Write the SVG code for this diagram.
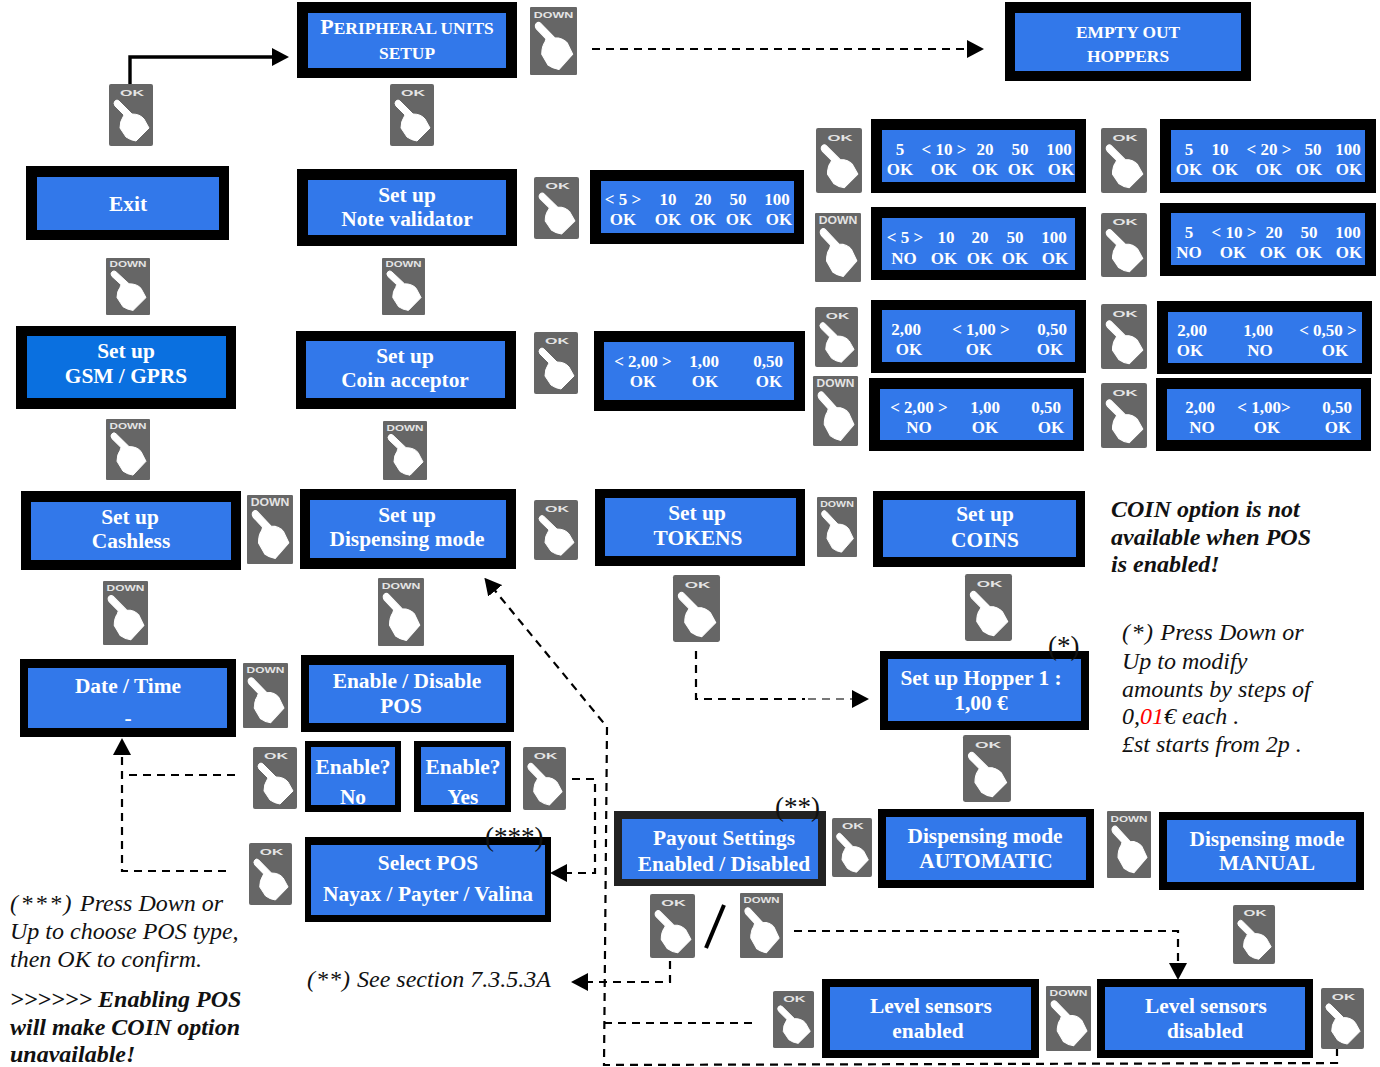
<svg xmlns="http://www.w3.org/2000/svg" width="1380" height="1067" viewBox="0 0 1380 1067">
<style>
text{font-family:"Liberation Serif","Times New Roman",serif}
.o{fill:#000}.i{fill:#3278ea}
.t{fill:#fff;font-weight:bold;font-size:21.4px;text-anchor:middle}
.l{fill:#fff;font-weight:bold;font-size:17px;text-anchor:middle}
.s{font-size:17.4px}.b{font-size:22px}
.k{fill:#666}.h{fill:#fff;stroke:#fff;stroke-width:1;stroke-linejoin:round}
.bl{fill:#e4e4e4;font-family:"Liberation Sans",Arial,sans-serif;font-weight:bold;text-anchor:middle}
.n{font-style:italic;font-size:24px;fill:#111}
.nb{font-style:italic;font-weight:bold;font-size:24px;fill:#111}
.m{font-size:27px;fill:#111}
.c{fill:none;stroke:#000;stroke-width:2.2;stroke-dasharray:8 6}
</style>
<defs>
<marker id="a" markerUnits="userSpaceOnUse" markerWidth="17" markerHeight="18" refX="5" refY="9" orient="auto"><path d="M0 0L17 9L0 18Z"/></marker>
<g id="ok"><rect class="k" width="44" height="62" rx="2"/><path class="h" d="M6 17Q8 15 10 17L23 30Q31 30 35 35L40 44L27 57Q21 56 17 53L11 44Q11 37 14 33L15 31L6 22Q4 19 6 17Z"/><text class="bl" x="23" y="12" font-size="9" textLength="24" lengthAdjust="spacingAndGlyphs">OK</text></g>
<g id="down"><rect class="k" width="44" height="62" rx="1"/><path class="h" d="M6 15Q8 13 10 15L23 28Q31 28 35 33L40 43L27 57Q21 56 17 53L11 43Q11 36 14 32L15 29L6 20Q4 17 6 15Z"/><text class="bl" x="22" y="10" font-size="9" textLength="37" lengthAdjust="spacingAndGlyphs">DOWN</text></g>
</defs>

<g id="connectors">
<path d="M130 84V57H277" fill="none" stroke="#000" stroke-width="3.4" marker-end="url(#a)"/>
<path class="c" d="M592 49H972" marker-end="url(#a)"/>
<path class="c" d="M696 651V699H805"/>
<path class="c" d="M808 699H857" style="stroke:#777" marker-end="url(#a)"/>
<path class="c" d="M235 775H122"/>
<path class="c" d="M226 871H122V750" marker-end="url(#a)"/>
<path class="c" d="M572 779H595V873H562" marker-end="url(#a)"/>
<path class="c" d="M1337 1048V1063L604 1065L607 727L492 587" marker-end="url(#a)"/>
<path class="c" d="M670 961V982H583" marker-end="url(#a)"/>
<path class="c" d="M604 1023H753"/>
<path class="c" d="M794 931H1178V968" marker-end="url(#a)"/>
<path d="M724 905L706 948" stroke="#000" stroke-width="4" fill="none"/>
</g>

<g id="n-peripheral"><rect class="o" x="297" y="2" width="220" height="76"/><rect class="i" x="308" y="13" width="198" height="55"/><text class="t s" x="407" y="34"><tspan class="b">P</tspan>ERIPHERAL UNITS</text><text class="t s" x="407" y="59">SETUP</text></g>
<g id="n-empty"><rect class="o" x="1005" y="2" width="246" height="79"/><rect class="i" x="1015" y="13" width="226" height="58"/><text class="t s" x="1128" y="38">EMPTY OUT</text><text class="t s" x="1128" y="62">HOPPERS</text></g>
<g id="n-exit"><rect class="o" x="26" y="166" width="203" height="74"/><rect class="i" x="37" y="177" width="182" height="53"/><text class="t" x="128" y="211">Exit</text></g>
<g id="n-note"><rect class="o" x="297" y="169" width="220" height="77"/><rect class="i" x="308" y="180" width="198" height="55"/><text class="t" x="407" y="202">Set up</text><text class="t" x="407" y="226">Note validator</text></g>
<g id="n-gsm"><rect class="o" x="16" y="326" width="220" height="83"/><rect fill="#0a70e0" x="27" y="336" width="199" height="62"/><text class="t" x="126" y="358">Set up</text><text class="t" x="126" y="383">GSM / GPRS</text></g>
<g id="n-coin"><rect class="o" x="296" y="331" width="220" height="78"/><rect class="i" x="306" y="341" width="199" height="57"/><text class="t" x="405" y="363">Set up</text><text class="t" x="405" y="387">Coin acceptor</text></g>
<g id="n-cashless"><rect class="o" x="21" y="491" width="220" height="79"/><rect class="i" x="31" y="502" width="200" height="58"/><text class="t" x="130" y="524">Set up</text><text class="t" x="131" y="548">Cashless</text></g>
<g id="n-dispensing"><rect class="o" x="300" y="489" width="216" height="80"/><rect class="i" x="310" y="500" width="196" height="58"/><text class="t" x="407" y="522">Set up</text><text class="t" x="407" y="546">Dispensing mode</text></g>
<g id="n-tokens"><rect class="o" x="595" y="489" width="210" height="77"/><rect class="i" x="605" y="498" width="191" height="58"/><text class="t" x="697" y="520">Set up</text><text class="t" x="698" y="545">TOKENS</text></g>
<g id="n-coins"><rect class="o" x="873" y="491" width="212" height="76"/><rect class="i" x="883" y="500" width="193" height="57"/><text class="t" x="985" y="521">Set up</text><text class="t" x="985" y="547">COINS</text></g>
<g id="n-date"><rect class="o" x="20" y="659" width="216" height="78"/><rect class="i" x="28" y="668" width="199" height="60"/><text class="t" x="128" y="693">Date / Time</text><text class="t" x="128" y="725">-</text></g>
<g id="n-enable"><rect class="o" x="301" y="655" width="213" height="77"/><rect class="i" x="309" y="665" width="197" height="58"/><text class="t" x="407" y="688">Enable / Disable</text><text class="t" x="401" y="713">POS</text></g>
<g id="n-hopper"><rect class="o" x="880" y="651" width="209" height="79"/><rect class="i" x="888" y="659" width="193" height="62"/><text class="t" x="981" y="685">Set up Hopper 1 :</text><text class="t" x="981" y="710">1,00 €</text></g>
<g id="n-no"><rect class="o" x="305" y="741" width="96" height="71"/><rect class="i" x="311" y="747" width="84" height="58"/><text class="t" x="353" y="774">Enable?</text><text class="t" x="353" y="804">No</text></g>
<g id="n-yes"><rect class="o" x="414" y="741" width="97" height="71"/><rect class="i" x="421" y="747" width="84" height="58"/><text class="t" x="463" y="774">Enable?</text><text class="t" x="463" y="804">Yes</text></g>
<g id="n-pos"><rect class="o" x="305" y="837" width="246" height="85"/><rect class="i" x="311" y="845" width="234" height="70"/><text class="t" x="428" y="870">Select POS</text><text class="t" x="428" y="901">Nayax / Payter / Valina</text></g>
<g id="n-payout"><rect fill="#222" x="614" y="811" width="212" height="75"/><rect class="i" x="622" y="819" width="196" height="60"/><text class="t" x="724" y="845">Payout Settings</text><text class="t" x="724" y="871">Enabled / Disabled</text></g>
<g id="n-auto"><rect class="o" x="878" y="809" width="216" height="79"/><rect class="i" x="886" y="817" width="200" height="63"/><text class="t" x="985" y="843">Dispensing mode</text><text class="t" x="986" y="868">AUTOMATIC</text></g>
<g id="n-manual"><rect class="o" x="1159" y="812" width="205" height="78"/><rect class="i" x="1167" y="820" width="189" height="62"/><text class="t" x="1267" y="846">Dispensing mode</text><text class="t" x="1267" y="870">MANUAL</text></g>
<g id="n-lvl-on"><rect class="o" x="822" y="979" width="217" height="79"/><rect class="i" x="830" y="987" width="201" height="63"/><text class="t" x="931" y="1013">Level sensors</text><text class="t" x="928" y="1038">enabled</text></g>
<g id="n-lvl-off"><rect class="o" x="1097" y="979" width="216" height="79"/><rect class="i" x="1105" y="987" width="200" height="63"/><text class="t" x="1206" y="1013">Level sensors</text><text class="t" x="1205" y="1038">disabled</text></g>

<g id="n-lcd-note"><rect class="o" x="590" y="170" width="214" height="74"/><rect class="i" x="601" y="181" width="193" height="52"/><text class="l" x="623" y="205">&lt; 5 &gt;</text><text class="l" x="668" y="205">10</text><text class="l" x="703" y="205">20</text><text class="l" x="738" y="205">50</text><text class="l" x="777" y="205">100</text><text class="l" x="623" y="225">OK</text><text class="l" x="668" y="225">OK</text><text class="l" x="703" y="225">OK</text><text class="l" x="739" y="225">OK</text><text class="l" x="779" y="225">OK</text></g>
<g id="n-lcd-coin"><rect class="o" x="594" y="331" width="211" height="80"/><rect class="i" x="604" y="342" width="190" height="58"/><text class="l" x="643" y="367">&lt; 2,00 &gt;</text><text class="l" x="704" y="367">1,00</text><text class="l" x="768" y="367">0,50</text><text class="l" x="643" y="387">OK</text><text class="l" x="705" y="387">OK</text><text class="l" x="769" y="387">OK</text></g>
<g id="n-lcd-1"><rect class="o" x="871" y="119" width="215" height="74"/><rect class="i" x="882" y="130" width="193" height="52"/><text class="l" x="900" y="155">5</text><text class="l" x="944" y="155">&lt; 10 &gt;</text><text class="l" x="985" y="155">20</text><text class="l" x="1020" y="155">50</text><text class="l" x="1059" y="155">100</text><text class="l" x="900" y="175">OK</text><text class="l" x="944" y="175">OK</text><text class="l" x="985" y="175">OK</text><text class="l" x="1021" y="175">OK</text><text class="l" x="1061" y="175">OK</text></g>
<g id="n-lcd-2"><rect class="o" x="1160" y="119" width="216" height="74"/><rect class="i" x="1171" y="130" width="194" height="52"/><text class="l" x="1189" y="155">5</text><text class="l" x="1220" y="155">10</text><text class="l" x="1269" y="155">&lt; 20 &gt;</text><text class="l" x="1313" y="155">50</text><text class="l" x="1348" y="155">100</text><text class="l" x="1189" y="175">OK</text><text class="l" x="1225" y="175">OK</text><text class="l" x="1269" y="175">OK</text><text class="l" x="1309" y="175">OK</text><text class="l" x="1349" y="175">OK</text></g>
<g id="n-lcd-3"><rect class="o" x="871" y="207" width="215" height="73"/><rect class="i" x="882" y="218" width="193" height="52"/><text class="l" x="905" y="243">&lt; 5 &gt;</text><text class="l" x="946" y="243">10</text><text class="l" x="980" y="243">20</text><text class="l" x="1015" y="243">50</text><text class="l" x="1054" y="243">100</text><text class="l" x="904" y="264">NO</text><text class="l" x="944" y="264">OK</text><text class="l" x="980" y="264">OK</text><text class="l" x="1015" y="264">OK</text><text class="l" x="1055" y="264">OK</text></g>
<g id="n-lcd-4"><rect class="o" x="1160" y="203" width="216" height="73"/><rect class="i" x="1171" y="213" width="194" height="52"/><text class="l" x="1189" y="238">5</text><text class="l" x="1234" y="238">&lt; 10 &gt;</text><text class="l" x="1274" y="238">20</text><text class="l" x="1309" y="238">50</text><text class="l" x="1348" y="238">100</text><text class="l" x="1189" y="258">NO</text><text class="l" x="1233" y="258">OK</text><text class="l" x="1273" y="258">OK</text><text class="l" x="1309" y="258">OK</text><text class="l" x="1349" y="258">OK</text></g>
<g id="n-lcd-5"><rect class="o" x="871" y="300" width="215" height="73"/><rect class="i" x="882" y="310" width="193" height="52"/><text class="l" x="906" y="335">2,00</text><text class="l" x="981" y="335">&lt; 1,00 &gt;</text><text class="l" x="1052" y="335">0,50</text><text class="l" x="909" y="355">OK</text><text class="l" x="979" y="355">OK</text><text class="l" x="1050" y="355">OK</text></g>
<g id="n-lcd-6"><rect class="o" x="1157" y="301" width="215" height="73"/><rect class="i" x="1168" y="312" width="194" height="51"/><text class="l" x="1192" y="336">2,00</text><text class="l" x="1258" y="336">1,00</text><text class="l" x="1328" y="336">&lt; 0,50 &gt;</text><text class="l" x="1190" y="356">OK</text><text class="l" x="1260" y="356">NO</text><text class="l" x="1335" y="356">OK</text></g>
<g id="n-lcd-7"><rect class="o" x="869" y="378" width="215" height="73"/><rect class="i" x="880" y="389" width="193" height="51"/><text class="l" x="919" y="413">&lt; 2,00 &gt;</text><text class="l" x="985" y="413">1,00</text><text class="l" x="1046" y="413">0,50</text><text class="l" x="919" y="433">NO</text><text class="l" x="985" y="433">OK</text><text class="l" x="1051" y="433">OK</text></g>
<g id="n-lcd-8"><rect class="o" x="1156" y="378" width="215" height="73"/><rect class="i" x="1167" y="389" width="194" height="51"/><text class="l" x="1200" y="413">2,00</text><text class="l" x="1264" y="413">&lt; 1,00&gt;</text><text class="l" x="1337" y="413">0,50</text><text class="l" x="1202" y="433">NO</text><text class="l" x="1267" y="433">OK</text><text class="l" x="1338" y="433">OK</text></g>

<g id="btn-1"><use href="#down" transform="translate(530 7) scale(1.068 1.097)"/></g>
<g id="btn-2"><use href="#ok" transform="translate(109 84)"/></g>
<g id="btn-3"><use href="#ok" transform="translate(390 84)"/></g>
<g id="btn-4"><use href="#ok" transform="translate(534 177) scale(1.023 1)"/></g>
<g id="btn-5"><use href="#down" transform="translate(106 258) scale(1 .92)"/></g>
<g id="btn-6"><use href="#down" transform="translate(382 258) scale(.977 .92)"/></g>
<g id="btn-7"><use href="#ok" transform="translate(534 332)"/></g>
<g id="btn-8"><use href="#down" transform="translate(106 419) scale(1 .984)"/></g>
<g id="btn-9"><use href="#down" transform="translate(383 421) scale(1 .952)"/></g>
<g id="btn-10"><use href="#down" transform="translate(247 495) scale(1.045 1.113)"/></g>
<g id="btn-11"><use href="#ok" transform="translate(534 500) scale(1 .968)"/></g>
<g id="btn-12"><use href="#down" transform="translate(817 497) scale(.909 .968)"/></g>
<g id="btn-13"><use href="#down" transform="translate(103 581) scale(1.023 1.032)"/></g>
<g id="btn-14"><use href="#down" transform="translate(378 578) scale(1.045 1.097)"/></g>
<g id="btn-15"><use href="#down" transform="translate(243 663) scale(1.023 1.048)"/></g>
<g id="btn-16"><use href="#ok" transform="translate(673 575) scale(1.068 1.081)"/></g>
<g id="btn-17"><use href="#ok" transform="translate(965 574) scale(1.068 1.081)"/></g>
<g id="btn-18"><use href="#ok" transform="translate(963 735) scale(1.09 1.081)"/></g>
<g id="btn-19"><use href="#ok" transform="translate(816 128) scale(1.045 1.048)"/></g>
<g id="btn-20"><use href="#down" transform="translate(815 213) scale(1.045 1.113)"/></g>
<g id="btn-21"><use href="#ok" transform="translate(1101 128) scale(1.045 1.048)"/></g>
<g id="btn-22"><use href="#ok" transform="translate(1101 213) scale(1.045 1.032)"/></g>
<g id="btn-23"><use href="#ok" transform="translate(815 307) scale(.977 .968)"/></g>
<g id="btn-24"><use href="#down" transform="translate(813 376) scale(1.023 1.129)"/></g>
<g id="btn-25"><use href="#ok" transform="translate(1101 304) scale(1.045 1.048)"/></g>
<g id="btn-26"><use href="#ok" transform="translate(1101 383) scale(1.045 1.048)"/></g>
<g id="btn-27"><use href="#ok" transform="translate(253 747)"/></g>
<g id="btn-28"><use href="#ok" transform="translate(523 747) scale(.977 1.016)"/></g>
<g id="btn-29"><use href="#ok" transform="translate(249 843) scale(.977 1)"/></g>
<g id="btn-30"><use href="#ok" transform="translate(832 818) scale(.909 .952)"/></g>
<g id="btn-31"><use href="#down" transform="translate(1107 811) scale(1 1.081)"/></g>
<g id="btn-32"><use href="#ok" transform="translate(650 894) scale(1.023 1.032)"/></g>
<g id="btn-33"><use href="#down" transform="translate(740 893) scale(.977 1.048)"/></g>
<g id="btn-34"><use href="#ok" transform="translate(1233 905) scale(.955 .952)"/></g>
<g id="btn-35"><use href="#ok" transform="translate(773 991) scale(.932 .919)"/></g>
<g id="btn-36"><use href="#down" transform="translate(1046 986) scale(1.023 1.048)"/></g>
<g id="btn-37"><use href="#ok" transform="translate(1321 988) scale(.977 .984)"/></g>

<g id="notes">
<text class="m" x="1048" y="655">(*)</text>
<text class="m" x="775" y="816">(**)</text>
<text class="m" x="485" y="846">(***)</text>
<text class="nb" x="1111" y="517">COIN option is not</text>
<text class="nb" x="1111" y="545">available when POS</text>
<text class="nb" x="1111" y="572">is enabled!</text>
<text class="n" x="1122" y="640"><tspan letter-spacing="1.5">(*)</tspan> Press Down or</text>
<text class="n" x="1122" y="669">Up to modify</text>
<text class="n" x="1122" y="697">amounts by steps of</text>
<text class="n" x="1122" y="724">0,<tspan fill="#f00">01</tspan>€ each .</text>
<text class="n" x="1122" y="752">£st starts from 2p .</text>
<text class="n" x="10" y="911"><tspan letter-spacing="2.4">(***)</tspan> Press Down or</text>
<text class="n" x="10" y="939">Up to choose POS type,</text>
<text class="n" x="10" y="967">then OK to confirm.</text>
<text class="nb" x="10" y="1007">&gt;&gt;&gt;&gt;&gt;&gt; Enabling POS</text>
<text class="nb" x="10" y="1035">will make COIN option</text>
<text class="nb" x="10" y="1062">unavailable!</text>
<text class="n" x="307" y="987"><tspan letter-spacing="1">(**)</tspan> See section 7.3.5.3A</text>
</g>
</svg>
